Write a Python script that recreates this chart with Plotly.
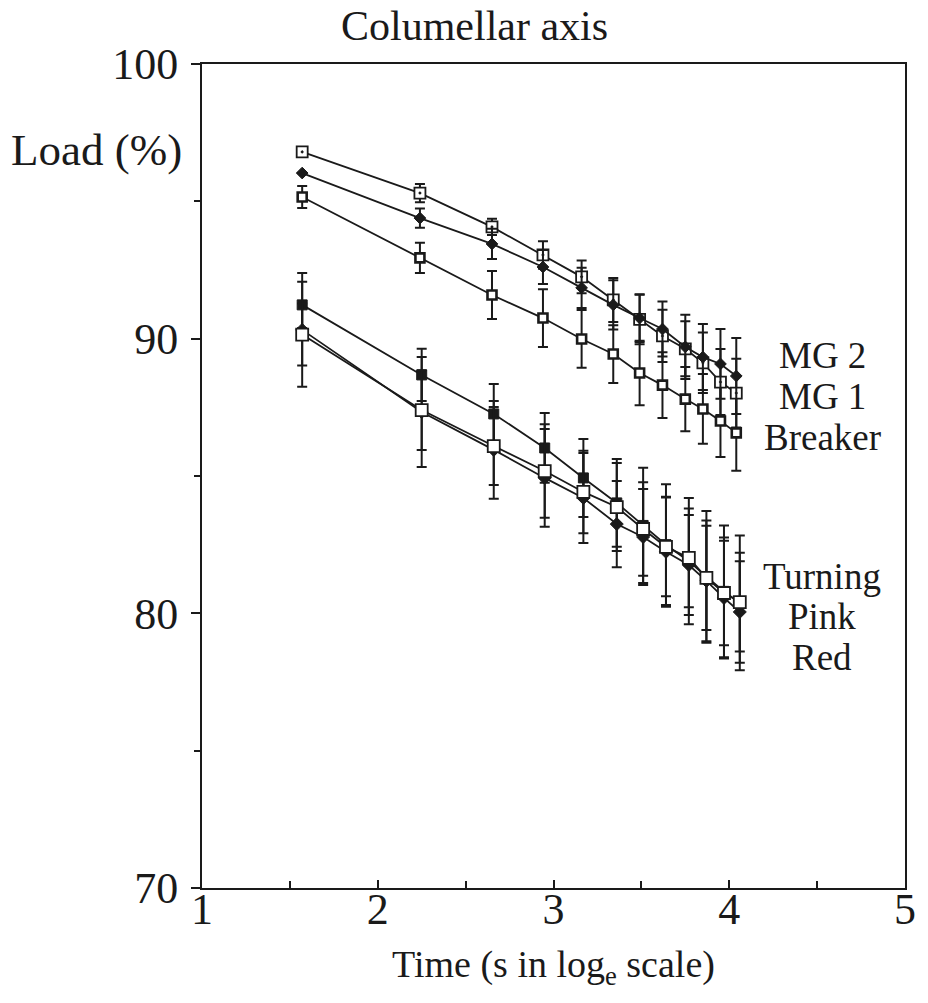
import plotly.graph_objects as go

# ---- data ----
x_upper = [1.57, 2.24, 2.65, 2.94, 3.16, 3.34, 3.49, 3.62, 3.75, 3.85, 3.95, 4.04]
x_lower = [1.57, 2.25, 2.66, 2.95, 3.17, 3.36, 3.51, 3.64, 3.77, 3.87, 3.97, 4.06]

mg2 = [96.03, 94.39, 93.45, 92.61, 91.85, 91.23, 90.75, 90.35, 89.70, 89.33, 89.08, 88.64]
mg2_err = [0.0, 0.35, 0.55, 0.62, 0.73, 0.90, 0.87, 1.00, 1.17, 1.20, 1.27, 1.38]

mg1 = [96.80, 95.30, 94.07, 93.05, 92.25, 91.41, 90.70, 90.10, 89.63, 89.12, 88.42, 88.02]
mg1_err = [0.0, 0.33, 0.30, 0.50, 0.60, 0.80, 0.90, 0.95, 1.00, 1.10, 1.20, 1.25]

breaker = [95.16, 92.94, 91.59, 90.75, 89.99, 89.44, 88.75, 88.31, 87.80, 87.44, 87.00, 86.57]
breaker_err = [0.40, 0.55, 0.87, 1.05, 1.05, 1.05, 1.17, 1.20, 1.17, 1.27, 1.31, 1.38]

turning = [91.23, 88.68, 87.26, 86.02, 84.93, 84.02, 83.20, 82.50, 81.90, 81.33, 80.80, 80.38]
turning_err = [0.84, 0.95, 1.09, 1.27, 1.42, 1.60, 2.10, 2.20, 2.30, 2.40, 2.40, 2.45]

pink = [90.15, 87.40, 86.09, 85.18, 84.42, 83.87, 83.07, 82.42, 82.02, 81.29, 80.74, 80.41]
pink_err = [1.13, 1.45, 1.42, 1.70, 1.50, 1.60, 1.70, 1.80, 1.80, 1.90, 1.90, 1.80]

red = [90.32, 87.33, 85.95, 84.93, 84.20, 83.25, 82.78, 82.24, 81.76, 81.18, 80.56, 80.05]
red_err = [2.07, 2.00, 1.78, 1.78, 1.64, 1.57, 1.75, 2.00, 1.82, 2.20, 2.20, 1.85]

series_labels = ["MG 2", "MG 1", "Breaker", "Turning", "Pink", "Red"]
label_y = [89.37, 87.88, 86.42, 81.33, 79.87, 78.41]
label_x = 4.53

x_ticks = [1, 2, 3, 4, 5]
y_ticks = [70, 80, 90, 100]

FONT = "Liberation Serif"
BLACK = "#1a1a1a"

fig = go.Figure()


def add_series(xs, ys, errs, symbol, size, fill, lw):
    fig.add_trace(go.Scatter(
        x=xs, y=ys, mode="lines+markers",
        line=dict(color=BLACK, width=1.8),
        marker=dict(symbol=symbol, size=size, color=fill,
                    line=dict(color=BLACK, width=lw)),
        error_y=dict(type="data", array=errs, visible=True,
                     color=BLACK, thickness=2, width=5),
        showlegend=False, cliponaxis=False,
    ))


add_series(x_upper, breaker, breaker_err, "square", 9, "white", 2.6)
add_series(x_upper, mg1, mg1_err, "square-dot", 11, "white", 1.8)
add_series(x_upper, mg2, mg2_err, "diamond", 9, BLACK, 1)

add_series(x_lower, turning, turning_err, "square", 10, BLACK, 1)
add_series(x_lower, red, red_err, "diamond", 10, BLACK, 1)
add_series(x_lower, pink, pink_err, "square", 12, "white", 1.8)

for txt, yy in zip(series_labels, label_y):
    fig.add_annotation(x=label_x, y=yy, xref="x", yref="y", text=txt,
                       showarrow=False, xanchor="center", yanchor="middle",
                       font=dict(family=FONT, size=37, color=BLACK))

fig.add_annotation(x=0.388, y=1.0, xref="paper", yref="paper", yshift=38,
                   text="Columellar axis", showarrow=False,
                   xanchor="center", yanchor="middle",
                   font=dict(family=FONT, size=42, color=BLACK))
fig.add_annotation(x=-0.15, y=0.8956, xref="paper", yref="paper",
                   text="Load (%)", showarrow=False,
                   xanchor="center", yanchor="middle",
                   font=dict(family=FONT, size=45, color=BLACK))

fig.update_layout(
    width=928, height=1003,
    margin=dict(l=202, r=14, t=64, b=115),
    paper_bgcolor="white", plot_bgcolor="white",
    font=dict(family=FONT, color=BLACK),
    showlegend=False,
)

fig.update_xaxes(
    range=[1, 5], tickvals=x_ticks, ticktext=[str(v) for v in x_ticks],
    ticks="inside", ticklen=8, tickwidth=2, tickcolor=BLACK,
    minor=dict(dtick=0.5, ticks="inside", ticklen=7, tickwidth=2, tickcolor=BLACK),
    showline=True, linewidth=2, linecolor=BLACK, mirror=True,
    showgrid=False, zeroline=False,
    tickfont=dict(family=FONT, size=44, color=BLACK),
    ticklabelstandoff=-19,
    title=dict(text="Time (s in log<sub>e</sub> scale)",
               font=dict(family=FONT, size=38, color=BLACK), standoff=18),
)
fig.update_yaxes(
    range=[70, 100], tickvals=y_ticks, ticktext=[str(v) for v in y_ticks],
    ticks="outside", ticklen=9, tickwidth=2, tickcolor=BLACK,
    minor=dict(dtick=5, ticks="outside", ticklen=6, tickwidth=2, tickcolor=BLACK),
    showline=True, linewidth=2, linecolor=BLACK, mirror=True,
    showgrid=False, zeroline=False,
    tickfont=dict(family=FONT, size=44, color=BLACK),
    ticklabelstandoff=4,
)

fig.write_html("out.html")
